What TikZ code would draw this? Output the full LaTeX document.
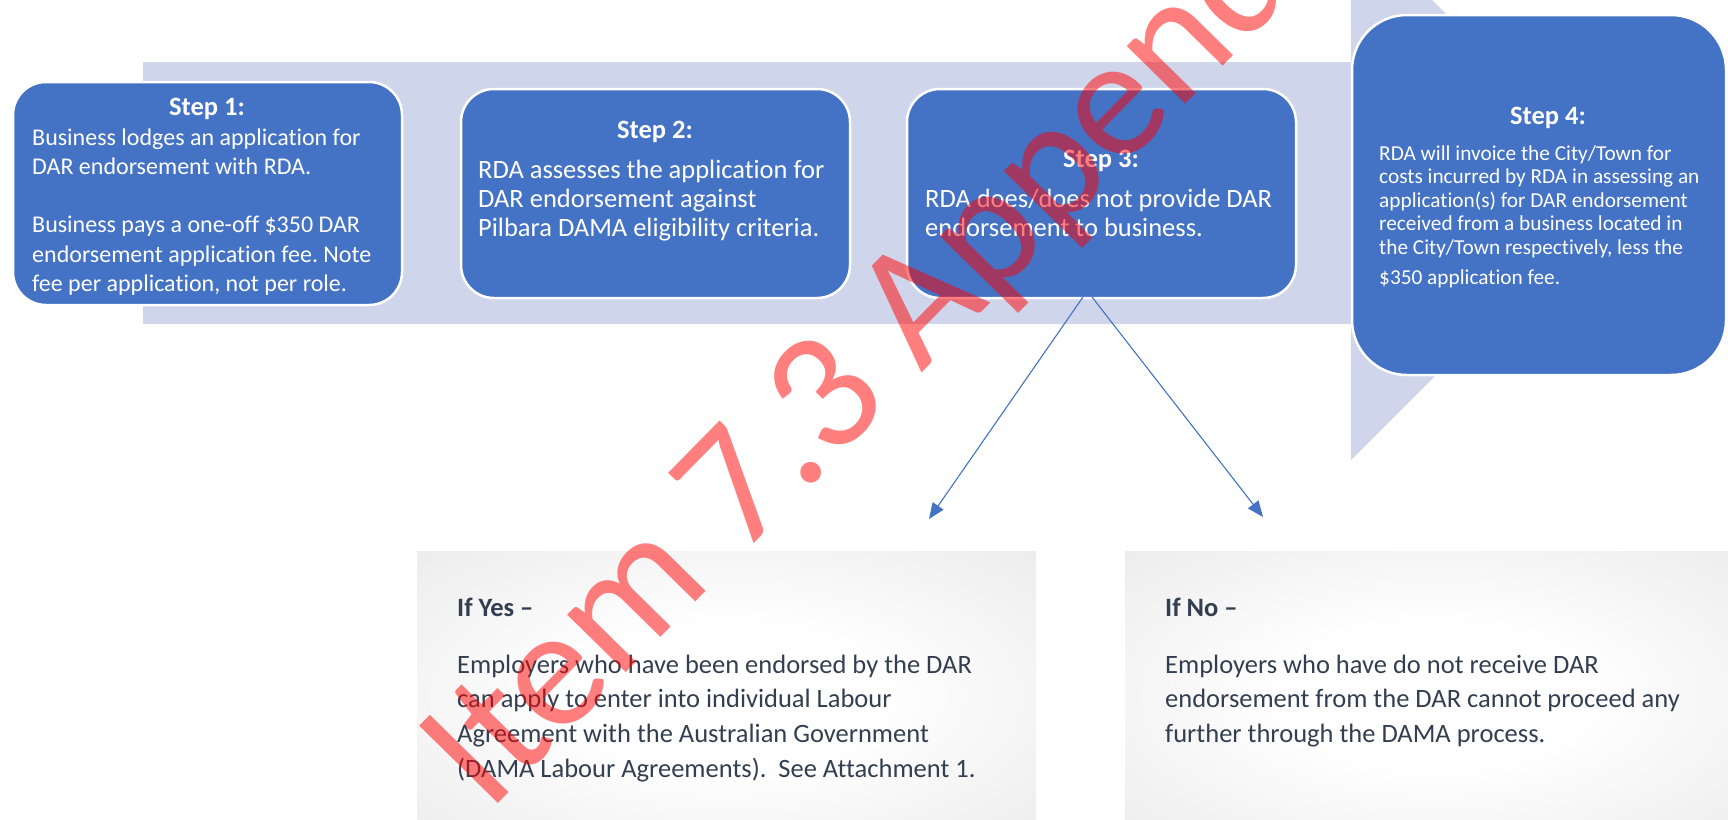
\documentclass[tikz,border=0pt]{standalone}
\usepackage{fontspec}
\setmainfont{Carlito}[Ligatures={NoCommon}]
\usetikzlibrary{arrows.meta}
\definecolor{bandc}{HTML}{CFD5EA}
\definecolor{stepblue}{HTML}{4472C4}
\definecolor{darktext}{HTML}{333F50}
\definecolor{boxedge}{HTML}{E2E1E3}
\definecolor{boxcorner}{HTML}{DADADC}
\pgfdeclareradialshading{softgray}{\pgfpoint{0bp}{0bp}}{color(0bp)=(white);color(12bp)=(white);color(50bp)=(boxedge);color(71bp)=(boxcorner)}
\tikzset{
  stepbox/.style={draw=white, line width=2.5pt, fill=stepblue, rounded corners=33pt, inner sep=0pt},
  bigbox/.style={stepbox, rounded corners=55pt},
  graybox/.style={shade, shading=softgray, draw=none, inner sep=0pt, anchor=north west},
  steptitle/.style={anchor=base, text=white, inner sep=0pt, font=\fontsize{26.5}{30}\selectfont\bfseries},
  smalltext/.style={anchor=base west, text=white, inner sep=0pt, font=\fontsize{24}{29}\selectfont},
  midtext/.style={anchor=base west, text=white, inner sep=0pt, font=\fontsize{26.5}{30}\selectfont},
  tinytext/.style={anchor=base west, text=white, inner sep=0pt, font=\fontsize{21.3}{24}\selectfont},
  boxtitle/.style={anchor=base west, text=darktext, inner sep=0pt, font=\fontsize{26.5}{30}\selectfont\bfseries},
  boxtext/.style={anchor=base west, text=darktext, inner sep=0pt, font=\fontsize{26.5}{30}\selectfont},
  conn/.style={draw=stepblue, line width=1.1pt, -{Triangle[length=16pt,width=13pt]}},
  wmark/.style={anchor=base west, rotate=45.5, text=red, text opacity=0.5, inner sep=0pt, font=\fontsize{172}{172}\selectfont}
}
\frenchspacing
\begin{document}
\begin{tikzpicture}[x=1pt, y=-1pt]
\useasboundingbox (0,0) rectangle (1728,819);
\clip (0,0) rectangle (1728,819);
\fill[white] (0,0) rectangle (1728,819);

% band with arrow head
\fill[bandc] (143,62) rectangle (1352,324);
\fill[bandc] (1351,-81) -- (1621.5,189.5) -- (1351,460) -- cycle;

% step boxes
\node[stepbox, minimum width=389pt, minimum height=223pt] (s1) at (207.5,193.5) {};
\node[stepbox, minimum width=389pt, minimum height=209pt] (s2) at (655.5,193.5) {};
\node[stepbox, minimum width=389pt, minimum height=209pt] (s3) at (1101.5,193.5) {};
\node[bigbox, minimum width=374pt, minimum height=360pt] (s4) at (1539,195) {};

% step 1 text
\node[steptitle] (t1) at (207,115.5) {Step 1:};
\foreach \t [count=\i from 0] in {Business lodges an application for, DAR endorsement with RDA., {}, Business pays a one-off \$350 DAR, endorsement application fee. Note, {fee per application, not per role.}}
  \node[smalltext] (s1l\i) at (32,145+29.3*\i) {\t};

% step 2 text
\node[steptitle] (t2) at (655,138.5) {Step 2:};
\foreach \t [count=\i from 0] in {RDA assesses the application for, DAR endorsement against, Pilbara DAMA eligibility criteria.}
  \node[midtext] (s2l\i) at (478,178+29.3*\i) {\t};

% step 3 text
\node[steptitle] (t3) at (1101,167.5) {Step 3:};
\foreach \t [count=\i from 0] in {RDA does/does not provide DAR, endorsement to business.}
  \node[midtext] (s3l\i) at (925,207+29.3*\i) {\t};

% step 4 text
\node[steptitle] (t4) at (1548,124.5) {Step 4:};
\foreach \t [count=\i from 0] in {RDA will invoice the City/Town for, costs incurred by RDA in assessing an, application(s) for DAR endorsement, received from a business located in, {the City/Town respectively, less the}}
  \node[tinytext] (s4l\i) at (1379,160+23.5*\i) {\t};
\node[tinytext] (s4l5) at (1379,284) {\$350 application fee.};

% connectors
\coordinate (sA) at (1083,297);
\coordinate (sB) at (1092,297);
\coordinate (yesTip) at (929,519);
\coordinate (noTip) at (1263,517);
\draw[conn] (sA) -- (yesTip);
\draw[conn] (sB) -- (noTip);

% result boxes
\node[graybox, minimum width=619pt, minimum height=290pt] (yes) at (417,551) {};
\node[graybox, minimum width=619pt, minimum height=290pt] (no) at (1125,551) {};

\node[boxtitle] (yt) at (457,616.5) {If Yes –};
\foreach \t [count=\i from 0] in {Employers who have been endorsed by the DAR, can apply to enter into individual Labour, Agreement with the Australian Government, (DAMA Labour Agreements).\ \ See Attachment 1.}
  \node[boxtext] (yl\i) at (457,673+34.8*\i) {\t};

\node[boxtitle] (nt) at (1165,616.5) {If No –};
\foreach \t [count=\i from 0] in {Employers who have do not receive DAR, endorsement from the DAR cannot proceed any, further through the DAMA process.}
  \node[boxtext] (nl\i) at (1165,673+34.8*\i) {\t};

% watermark
\node[wmark] (wm) at (488,814) {Item 7.3 Appendix};
\end{tikzpicture}
\end{document}
